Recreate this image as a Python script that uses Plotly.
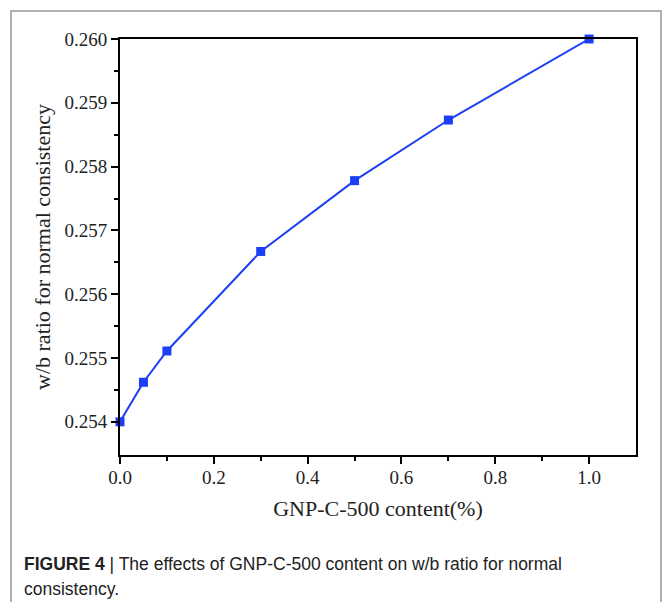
import plotly.graph_objects as go

content = [0.0, 0.05, 0.1, 0.3, 0.5, 0.7, 1.0]
wb_ratio = [0.2540, 0.25462, 0.25511, 0.25667, 0.25778, 0.25873, 0.2600]
x_ticks = [0.0, 0.2, 0.4, 0.6, 0.8, 1.0]
y_ticks = [0.254, 0.255, 0.256, 0.257, 0.258, 0.259, 0.260]

W, H = 665, 602
L, R, T, B = 120, 636, 39, 455
pw, ph = R - L, B - T

def px(x):
    return (x - L) / pw

def py(y):
    return (B - y) / ph

fig = go.Figure()
fig.add_trace(go.Scatter(
    x=content, y=wb_ratio, mode="lines+markers",
    line=dict(color="#1c3ff5", width=2),
    marker=dict(symbol="square", size=9, color="#1c3ff5"),
    cliponaxis=False, showlegend=False,
))

serif = "Liberation Serif"
fig.update_layout(
    width=W, height=H,
    margin=dict(l=L, r=W - R, t=T, b=H - B),
    paper_bgcolor="white", plot_bgcolor="white",
    xaxis=dict(
        range=[0, 1.1], tickvals=x_ticks, ticktext=[f"{v:.1f}" for v in x_ticks],
        showgrid=False, zeroline=False, showline=True, linecolor="black", linewidth=2,
        ticks="outside", ticklen=7, tickwidth=2, tickcolor="black",
        minor=dict(tickvals=[0.1, 0.3, 0.5, 0.7, 0.9], ticks="outside", ticklen=4, tickwidth=1.5, tickcolor="black"),
        mirror=True, ticklabelstandoff=-3,
        tickfont=dict(family=serif, size=19, color="#222"),
        title=dict(text="GNP-C-500 content(%)", font=dict(family=serif, size=22, color="#222"), standoff=14),
    ),
    yaxis=dict(
        range=[0.25348, 0.2600], tickvals=y_ticks, ticktext=[f"{v:.3f}" for v in y_ticks],
        showgrid=False, zeroline=False, showline=True, linecolor="black", linewidth=2,
        ticks="outside", ticklen=7, tickwidth=2, tickcolor="black",
        minor=dict(tickvals=[0.2545, 0.2555, 0.2565, 0.2575, 0.2585, 0.2595], ticks="outside", ticklen=4, tickwidth=1.5, tickcolor="black"),
        mirror=True,
        tickfont=dict(family=serif, size=19, color="#222"),
        title=dict(text="w/b ratio for normal consistency", font=dict(family=serif, size=22, color="#222"), standoff=8),
    ),
    shapes=[dict(
        type="rect", xref="paper", yref="paper",
        x0=px(11), x1=px(661), y0=py(620), y1=py(11),
        line=dict(color="#b0b0b0", width=2), fillcolor="rgba(0,0,0,0)", layer="below",
    )],
    annotations=[
        dict(xref="paper", yref="paper", x=px(22), y=py(564), xanchor="left", yanchor="middle",
             text="<b>FIGURE 4</b> | The effects of GNP-C-500 content on w/b ratio for normal",
             showarrow=False, font=dict(family="Liberation Sans", size=17.5, color="#222")),
        dict(xref="paper", yref="paper", x=px(22), y=py(589), xanchor="left", yanchor="middle",
             text="consistency.",
             showarrow=False, font=dict(family="Liberation Sans", size=17.5, color="#222")),
    ],
)

fig.write_html("out.html")
